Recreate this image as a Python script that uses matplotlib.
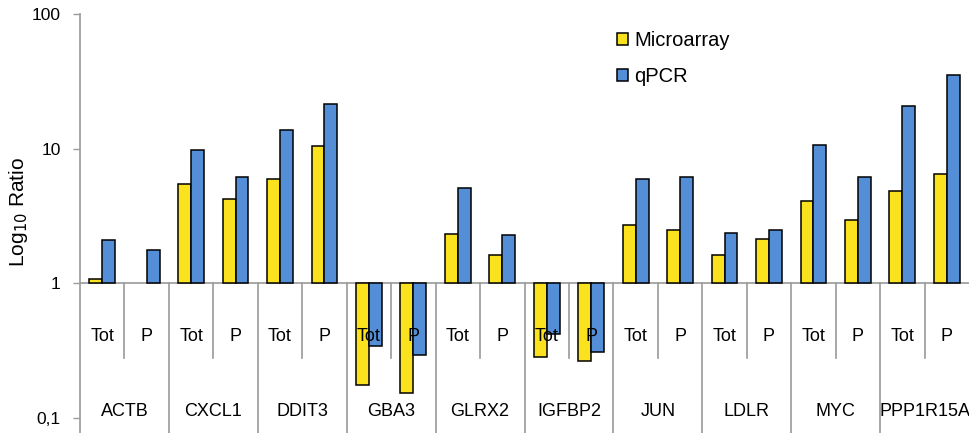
import matplotlib
matplotlib.use("Agg")
import matplotlib.pyplot as plt
from matplotlib.patches import Patch

plt.rcParams['font.family'] = ['Liberation Sans', 'DejaVu Sans']

genes = ["ACTB", "CXCL1", "DDIT3", "GBA3", "GLRX2", "IGFBP2", "JUN", "LDLR", "MYC", "PPP1R15A"]
fractions = ["Tot", "P"]

# ratios per gene, ordered Tot, P
microarray = [1.07, 1.0, 5.5, 4.26, 6.0, 10.4, 0.175, 0.153, 2.33, 1.61,
              0.286, 0.263, 2.70, 2.51, 1.63, 2.13, 4.12, 2.96, 4.83, 6.53]
qpcr = [2.09, 1.76, 9.8, 6.13, 13.7, 21.4, 0.343, 0.293, 5.12, 2.28,
        0.42, 0.307, 6.0, 6.13, 2.35, 2.47, 10.6, 6.2, 20.7, 35.2]

yticks = [0.1, 1, 10, 100]
yticklabels = ["0,1", "1", "10", "100"]

yellow = "#FBE21F"
blue = "#548ED6"
grey = "#9A9A9A"

fig = plt.figure(figsize=(9.69, 4.33), dpi=100)
ax = fig.add_axes([80 / 969, 0.0, 1 - 80 / 969, 1 - 14 / 433])

n = len(microarray)
xs = list(range(n))
w = 0.29


def draw_series(values, offset, color):
    bars = ax.bar([x + offset for x in xs], [v - 1 for v in values], bottom=1, width=w,
                  color=color, edgecolor="black", linewidth=1.1, zorder=2)
    for b, v in zip(bars, values):
        if v == 1:
            b.set_edgecolor("none")


draw_series(microarray, -w / 2, yellow)
draw_series(qpcr, w / 2, blue)

ax.set_yscale("log")
ymin = 10 ** (-1 - 15 / 134.6)
ax.set_ylim(ymin, 100)
ax.set_xlim(-0.5, n - 0.5)
ax.set_yticks(yticks)
ax.set_yticklabels(yticklabels, fontsize=12.5)
ax.minorticks_off()
ax.set_xticks([])
ax.tick_params(axis="y", direction="out", length=5, color=grey, width=1, pad=9)

for side in ["top", "right", "bottom"]:
    ax.spines[side].set_visible(False)
ax.spines["left"].set_color(grey)
ax.spines["left"].set_linewidth(1.2)

# category baseline at ratio 1
ax.axhline(1, color=grey, linewidth=1.2, zorder=1)

# separators and two-level category labels
sub_bottom = 0.277
for gi, g in enumerate(genes):
    left = gi * 2 - 0.5
    if gi > 0:
        ax.plot([left, left], [1, ymin], color=grey, linewidth=1.2, zorder=1, clip_on=False)
    ax.plot([left + 1, left + 1], [1, sub_bottom], color=grey, linewidth=1.2, zorder=1)
    for fi, f in enumerate(fractions):
        ax.text(gi * 2 + fi, 0.40, f, ha="center", va="center", fontsize=13, zorder=5)
    ax.text(gi * 2 + 0.5, 0.111, g, ha="center", va="center", fontsize=13, zorder=5)

ax.set_ylabel("Log$_{10}$ Ratio", fontsize=15)
ax.yaxis.set_label_coords(-0.056, 0.527)

handles = [Patch(facecolor=yellow, edgecolor="black", linewidth=1.1, label="Microarray"),
           Patch(facecolor=blue, edgecolor="black", linewidth=1.1, label="qPCR")]
ax.legend(handles=handles, loc="upper left", bbox_to_anchor=(617 / 969, 1 - 31 / 433),
          bbox_transform=fig.transFigure, frameon=False, fontsize=14.5,
          handlelength=0.55, handleheight=0.6, handletextpad=0.3, labelspacing=0.85,
          borderaxespad=0, borderpad=0)

fig.savefig("out.png", dpi=100)
